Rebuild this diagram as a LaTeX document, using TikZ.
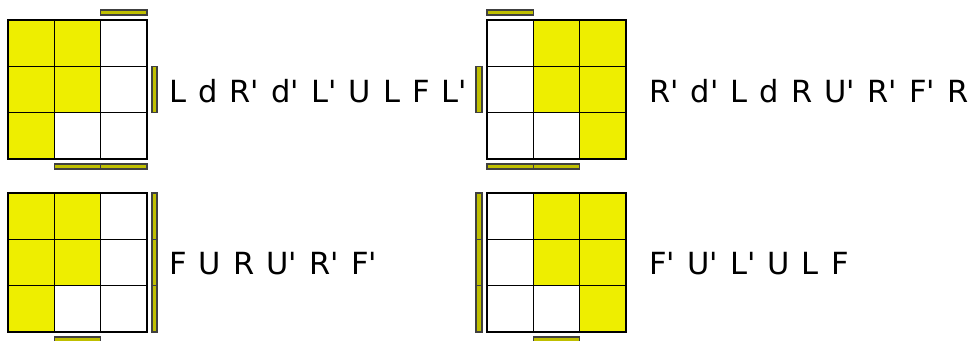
\documentclass[tikz,border=0pt]{standalone}
\usepackage{fontspec}
\setmainfont{DejaVu Sans}
\definecolor{faceyellow}{HTML}{EEEE00}
\definecolor{sideyellow}{HTML}{BFBF00}
\newcommand{\turn}{\textquotesingle}
\newcommand{\algfont}{\fontsize{30.5}{36}\selectfont\spaceskip 12.1pt\relax}

\begin{document}
\begin{tikzpicture}[x=1pt,y=-1pt,
  facecell/.style={draw=black, line width=1.4pt},
  sidestrip/.style={fill=sideyellow, draw=black!75, line width=1.1pt},
  algtext/.style={anchor=base west, inner sep=0pt, font=\algfont}]
  \useasboundingbox (0,0) rectangle (973,340);
  \def\cs{46.33}
  % top left case
  \begin{scope}[shift={(8,20)}]
    \foreach \c/\r in {0/0,1/0,0/1,1/1,0/2} \fill[faceyellow] (\c*\cs,\r*\cs) rectangle ++(\cs,\cs);
    \foreach \c in {0,1,2} \foreach \r in {0,1,2} \draw[facecell] (\c*\cs,\r*\cs) rectangle ++(\cs,\cs);
    \draw[sidestrip] (2*\cs,-10) rectangle (3*\cs,-5);
    \draw[sidestrip] (3*\cs+5,\cs) rectangle (3*\cs+10,2*\cs);
    \foreach \c in {1,2} \draw[sidestrip] (\c*\cs,3*\cs+5) rectangle ++(\cs,5);
  \end{scope}
  % top right case
  \begin{scope}[shift={(487,20)}]
    \foreach \c/\r in {1/0,2/0,1/1,2/1,2/2} \fill[faceyellow] (\c*\cs,\r*\cs) rectangle ++(\cs,\cs);
    \foreach \c in {0,1,2} \foreach \r in {0,1,2} \draw[facecell] (\c*\cs,\r*\cs) rectangle ++(\cs,\cs);
    \draw[sidestrip] (0,-10) rectangle (\cs,-5);
    \draw[sidestrip] (-11,\cs) rectangle (-5,2*\cs);
    \foreach \c in {0,1} \draw[sidestrip] (\c*\cs,3*\cs+5) rectangle ++(\cs,5);
  \end{scope}
  % bottom left case
  \begin{scope}[shift={(8,193)}]
    \foreach \c/\r in {0/0,1/0,0/1,1/1,0/2} \fill[faceyellow] (\c*\cs,\r*\cs) rectangle ++(\cs,\cs);
    \foreach \c in {0,1,2} \foreach \r in {0,1,2} \draw[facecell] (\c*\cs,\r*\cs) rectangle ++(\cs,\cs);
    \foreach \r in {0,1,2} \draw[sidestrip] (3*\cs+5,\r*\cs) rectangle ++(5,\cs);
    \draw[sidestrip] (\cs,3*\cs+5) rectangle ++(\cs,5);
  \end{scope}
  % bottom right case
  \begin{scope}[shift={(487,193)}]
    \foreach \c/\r in {1/0,2/0,1/1,2/1,2/2} \fill[faceyellow] (\c*\cs,\r*\cs) rectangle ++(\cs,\cs);
    \foreach \c in {0,1,2} \foreach \r in {0,1,2} \draw[facecell] (\c*\cs,\r*\cs) rectangle ++(\cs,\cs);
    \foreach \r in {0,1,2} \draw[sidestrip] (-11,\r*\cs) rectangle ++(6,\cs);
    \draw[sidestrip] (\cs,3*\cs+5) rectangle ++(\cs,5);
  \end{scope}
  % algorithms
  \node[algtext] (algTL) at (169,102) {L d R\turn{} d\turn{} L\turn{} U L F L\turn};
  \node[algtext] (algTR) at (649,102) {R\turn{} d\turn{} L d R U\turn{} R\turn{} F\turn{} R};
  \node[algtext] (algBL) at (169,274) {F U R U\turn{} R\turn{} F\turn};
  \node[algtext] (algBR) at (649,274) {F\turn{} U\turn{} L\turn{} U L F};
\end{tikzpicture}
\end{document}
